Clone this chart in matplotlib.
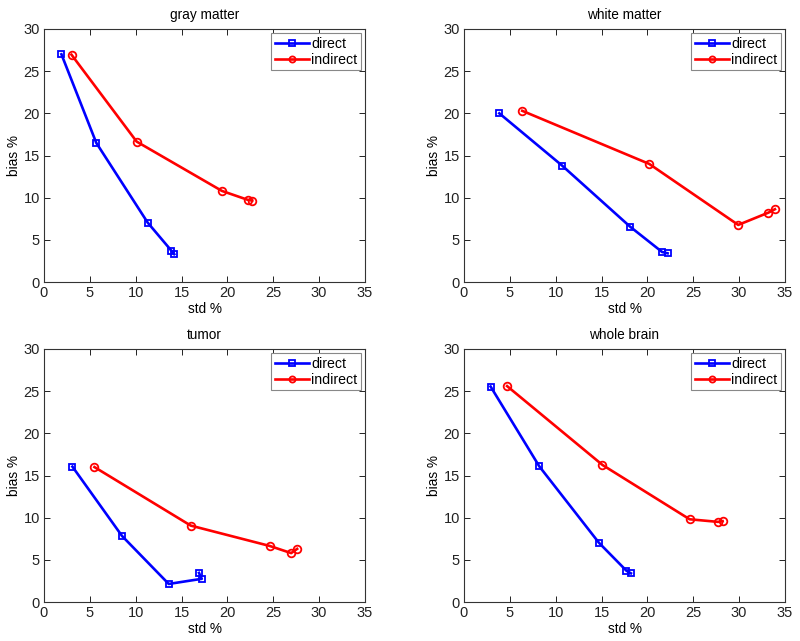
import matplotlib
matplotlib.use("Agg")
import matplotlib.pyplot as plt

plt.rcParams['font.family'] = ['Liberation Sans', 'DejaVu Sans']

# values (std %, bias %)
titles = ['gray matter', 'white matter', 'tumor', 'whole brain']

gray_direct_x = [1.9, 5.7, 11.3, 13.9, 14.2]
gray_direct_y = [27.0, 16.5, 7.05, 3.7, 3.3]
gray_indirect_x = [3.0, 10.1, 19.4, 22.2, 22.7]
gray_indirect_y = [26.95, 16.65, 10.8, 9.75, 9.65]

white_direct_x = [3.85, 10.7, 18.1, 21.6, 22.2]
white_direct_y = [20.0, 13.8, 6.57, 3.56, 3.4]
white_indirect_x = [6.35, 20.2, 29.9, 33.2, 33.9]
white_indirect_y = [20.3, 14.0, 6.77, 8.23, 8.63]

tumor_direct_x = [3.1, 8.5, 13.6, 17.2, 16.9]
tumor_direct_y = [16.05, 7.84, 2.14, 2.75, 3.45]
tumor_indirect_x = [5.5, 16.0, 24.6, 26.95, 27.6]
tumor_indirect_y = [16.0, 9.06, 6.65, 5.8, 6.3]

whole_direct_x = [2.9, 8.2, 14.7, 17.7, 18.2]
whole_direct_y = [25.55, 16.1, 7.04, 3.72, 3.4]
whole_indirect_x = [4.7, 15.1, 24.6, 27.7, 28.2]
whole_indirect_y = [25.6, 16.25, 9.81, 9.5, 9.58]

panels = [
    (gray_direct_x, gray_direct_y, gray_indirect_x, gray_indirect_y),
    (white_direct_x, white_direct_y, white_indirect_x, white_indirect_y),
    (tumor_direct_x, tumor_direct_y, tumor_indirect_x, tumor_indirect_y),
    (whole_direct_x, whole_direct_y, whole_indirect_x, whole_indirect_y),
]

x_ticks = [0, 5, 10, 15, 20, 25, 30, 35]
y_ticks = [0, 5, 10, 15, 20, 25, 30]

fig = plt.figure(figsize=(8.0, 6.41), dpi=100)

# axes boxes in figure pixels: left, top
boxes = [(44, 29), (464, 29), (44, 349), (464, 349)]
W, H = 800.0, 641.0
aw, ah = 321, 253

for (left, top), title, (dx, dy, ix, iy) in zip(boxes, titles, panels):
    ax = fig.add_axes([left / W, 1 - (top + ah) / H, aw / W, ah / H])
    ax.plot(dx, dy, color='#0000ff', lw=1.9, marker='s', ms=5,
            mfc='none', mew=1.3, label='direct')
    ax.plot(ix, iy, color='#ff0000', lw=1.9, marker='o', ms=5.5,
            mfc='none', mew=1.3, label='indirect')
    ax.set_xlim(0, 35)
    ax.set_ylim(0, 30)
    ax.set_xticks(x_ticks)
    ax.set_yticks(y_ticks)
    ax.tick_params(direction='in', top=True, right=True, length=4,
                   width=0.7, labelsize=10.5, pad=3, colors='#222222')
    for s in ax.spines.values():
        s.set_linewidth(0.8)
        s.set_color('#333333')
    ax.set_title(title, fontsize=9.8, pad=7)
    ax.set_xlabel('std %', fontsize=9.8, labelpad=1)
    ax.set_ylabel('bias %', fontsize=9.8, labelpad=2)
    leg = ax.legend(loc='upper right', fontsize=10.2, fancybox=False,
                    borderaxespad=0.3, handlelength=2.4, handletextpad=0.15,
                    labelspacing=0.15, borderpad=0.25, framealpha=1,
                    markerscale=0.8)
    leg.get_frame().set_edgecolor('#888888')
    leg.get_frame().set_linewidth(0.8)

fig.savefig('out.png', dpi=100)
